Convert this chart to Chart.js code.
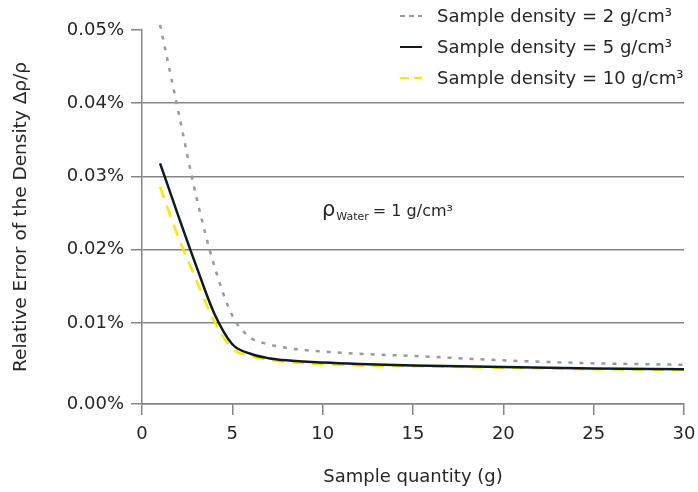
<!DOCTYPE html>
<html>
<head>
<meta charset="utf-8">
<script src="https://cdn.jsdelivr.net/npm/chart.js@4.4.1/dist/chart.umd.min.js"></script>
<style>
  html, body { margin: 0; padding: 0; background: #fff; }
  #wrap { width: 698px; height: 492px; }
</style>
</head>
<body>
<div id="wrap"><canvas id="chart"></canvas></div>
<script>
// sample quantity in g
const quantities = [1, 2, 3, 4, 5, 6, 7, 8, 10, 12, 15, 20, 25, 30];
// relative error in %
const density2 = [0.0507, 0.0390, 0.0273, 0.0178, 0.0110, 0.0080, 0.0071, 0.0066, 0.0061, 0.0058, 0.0055, 0.0049, 0.0045, 0.0043];
const density5 = [0.0318, 0.0247, 0.0178, 0.0113, 0.0071, 0.0058, 0.0052, 0.0049, 0.0046, 0.0044, 0.0042, 0.0040, 0.0038, 0.0037];
const density10 = [0.0286, 0.0218, 0.0159, 0.0102, 0.0065, 0.0055, 0.0050, 0.0047, 0.0044, 0.0042, 0.0041, 0.0039, 0.0037, 0.0036];
const seriesLabels = ["Sample density = 2 g/cm³", "Sample density = 5 g/cm³", "Sample density = 10 g/cm³"];
const yTickValues = [0.01, 0.02, 0.03, 0.04, 0.05];
const xTickValues = [0, 5, 10, 15, 20, 25, 30];

// the 0.00% line sits a bit below where zero would be on the original
const yFloor = -0.00106;

const FONT = "'DejaVu Sans', sans-serif";
const TEXT = "#262626";
const GRID = "#858585";

const toPoints = (vals) => vals.map((v, i) => ({ x: quantities[i], y: v }));

const legendDash = [[5, 4], [], [9, 5]];

const extras = {
  id: "extras",
  afterDraw(chart) {
    const ctx = chart.ctx;
    ctx.save();
    // legend
    const rows = [16, 47, 78];
    chart.data.datasets.forEach((ds, i) => {
      ctx.strokeStyle = ds.borderColor;
      ctx.lineWidth = 2;
      ctx.setLineDash(legendDash[i]);
      ctx.beginPath();
      ctx.moveTo(400, rows[i]);
      ctx.lineTo(422, rows[i]);
      ctx.stroke();
      ctx.setLineDash([]);
      ctx.fillStyle = TEXT;
      ctx.font = "18px " + FONT;
      ctx.textBaseline = "middle";
      ctx.textAlign = "left";
      ctx.fillText(ds.label, 437, rows[i] + 1);
    });
    // water density note
    ctx.textBaseline = "alphabetic";
    let x = 322;
    const base = 216;
    ctx.font = "21px " + FONT;
    ctx.fillText("ρ", x, base);
    x += ctx.measureText("ρ").width + 1;
    ctx.font = "11px " + FONT;
    ctx.fillText("Water", x, base + 4);
    x += ctx.measureText("Water").width + 4;
    ctx.font = "16px " + FONT;
    ctx.fillText("= 1 g/cm³", x, base);
    ctx.restore();
  }
};

new Chart(document.getElementById("chart"), {
  type: "line",
  data: {
    datasets: [
      {
        label: seriesLabels[0],
        data: toPoints(density2),
        borderColor: "#969ba0",
        borderWidth: 2.5,
        borderDash: [4, 7],
        clip: false,
      },
      {
        label: seriesLabels[1],
        data: toPoints(density5),
        borderColor: "#0e1c22",
        borderWidth: 2.5,
        clip: false,
      },
      {
        label: seriesLabels[2],
        data: toPoints(density10),
        borderColor: "#ffe600",
        borderWidth: 2.5,
        borderDash: [12, 8],
        clip: false,
      },
    ],
  },
  options: {
    responsive: true,
    maintainAspectRatio: false,
    animation: false,
    layout: { padding: { top: 30, right: 14, left: 0, bottom: 0 } },
    elements: {
      point: { radius: 0 },
      line: { cubicInterpolationMode: "monotone", fill: false },
    },
    plugins: {
      legend: { display: false },
      tooltip: { enabled: false },
    },
    scales: {
      x: {
        type: "linear",
        min: 0,
        max: 30,
        afterBuildTicks: (scale) => {
          scale.ticks = xTickValues.map((v) => ({ value: v }));
        },
        afterFit: (scale) => {
          scale.height = 88;
          scale.paddingLeft = 0;
          scale.paddingRight = 0;
        },
        border: { color: GRID, width: 1.5 },
        grid: {
          drawOnChartArea: false,
          drawTicks: true,
          tickLength: 11,
          tickColor: GRID,
          lineWidth: 1.5,
        },
        ticks: {
          padding: 9,
          color: TEXT,
          font: { family: FONT, size: 18 },
          maxRotation: 0,
        },
        title: {
          display: true,
          text: "Sample quantity (g)",
          color: TEXT,
          font: { family: FONT, size: 18 },
          padding: { top: 0, bottom: 4 },
        },
      },
      y: {
        type: "linear",
        min: yFloor,
        max: 0.05,
        afterBuildTicks: (scale) => {
          scale.ticks = [{ value: yFloor }].concat(yTickValues.map((v) => ({ value: v })));
        },
        afterFit: (scale) => {
          scale.width = 142;
          scale.paddingTop = 0;
          scale.paddingBottom = 0;
        },
        border: { color: GRID, width: 1.5 },
        grid: {
          color: (c) => (c.tick && c.tick.value >= 0.05 ? "rgba(0,0,0,0)" : GRID),
          tickColor: GRID,
          lineWidth: 1.5,
          tickLength: 11,
        },
        ticks: {
          padding: 7,
          color: TEXT,
          font: { family: FONT, size: 18 },
          callback: (v) => (v <= 0 ? "0.00%" : v.toFixed(2) + "%"),
        },
        title: {
          display: true,
          text: "Relative Error of the Density Δρ/ρ",
          color: TEXT,
          font: { family: FONT, size: 18.5 },
          padding: { top: 10, bottom: 0 },
        },
      },
    },
  },
  plugins: [extras],
});
</script>
</body>
</html>
